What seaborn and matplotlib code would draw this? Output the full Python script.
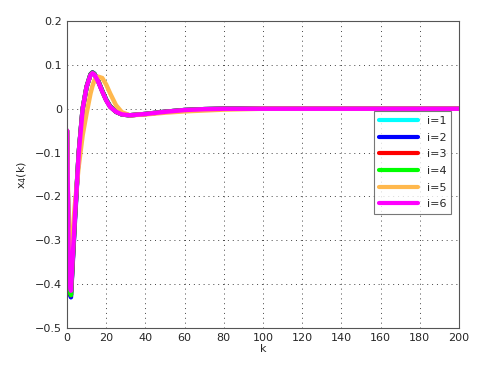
import matplotlib
matplotlib.use("Agg")
import matplotlib.pyplot as plt
import seaborn as sns
import pandas as pd

# sample instants and state x4(k) for each agent i
k = [0, 1, 2, 4, 6, 8, 10, 12, 13, 14, 16, 18, 20, 22, 25, 28, 32, 40, 50, 60, 70, 80, 100, 150, 200]

x4_i1 = [-0.05, -0.40, -0.425, -0.25, -0.10, 0.0, 0.05, 0.078, 0.082, 0.079, 0.062, 0.040, 0.020, 0.005, -0.007, -0.013, -0.015, -0.012, -0.007, -0.003, -0.001, 0.0, 0.0, 0.0, 0.0]
x4_i2 = [-0.05, -0.41, -0.430, -0.26, -0.10, 0.0, 0.05, 0.079, 0.083, 0.080, 0.063, 0.041, 0.021, 0.006, -0.007, -0.013, -0.015, -0.012, -0.007, -0.003, -0.001, 0.0, 0.0, 0.0, 0.0]
x4_i3 = [-0.05, -0.40, -0.425, -0.25, -0.10, 0.0, 0.05, 0.078, 0.082, 0.079, 0.062, 0.040, 0.020, 0.005, -0.007, -0.013, -0.015, -0.012, -0.007, -0.003, -0.001, 0.0, 0.0, 0.0, 0.0]
x4_i4 = [-0.05, -0.40, -0.425, -0.25, -0.10, 0.0, 0.05, 0.078, 0.082, 0.079, 0.062, 0.040, 0.020, 0.005, -0.007, -0.013, -0.015, -0.012, -0.007, -0.003, -0.001, 0.0, 0.0, 0.0, 0.0]
x4_i5 = [-0.05, -0.33, -0.335, -0.22, -0.13, -0.06, -0.01, 0.035, 0.052, 0.065, 0.073, 0.070, 0.055, 0.035, 0.008, -0.008, -0.015, -0.013, -0.009, -0.006, -0.004, -0.002, 0.0, 0.0, 0.0]
x4_i6 = [-0.05, -0.39, -0.415, -0.25, -0.10, 0.0, 0.05, 0.077, 0.081, 0.078, 0.061, 0.039, 0.019, 0.004, -0.007, -0.013, -0.015, -0.012, -0.007, -0.003, -0.001, 0.0, 0.0, 0.0, 0.0]

labels = ["i=1", "i=2", "i=3", "i=4", "i=5", "i=6"]
colors = ["#00ffff", "#0000ff", "#ff0000", "#00ff00", "#ffb84d", "#ff00ff"]

frames = []
for lab, vals in zip(labels, [x4_i1, x4_i2, x4_i3, x4_i4, x4_i5, x4_i6]):
    frames.append(pd.DataFrame({"k": k, "x4": vals, "agent": lab}))
df = pd.concat(frames, ignore_index=True)

sns.set_style("white")
plt.rcParams["font.family"] = ["DejaVu Sans"]

fig = plt.figure(figsize=(4.8, 3.66), dpi=100)
ax = fig.add_axes([0.1396, 0.1038, 0.8164, 0.8388])

sns.lineplot(data=df, x="k", y="x4", hue="agent", palette=colors,
             linewidth=3.2, ax=ax, sort=False, estimator=None)

ax.set_xlim(0, 200)
ax.set_ylim(-0.5, 0.2)
ax.set_xticks(range(0, 201, 20))
ax.set_yticks([-0.5, -0.4, -0.3, -0.2, -0.1, 0, 0.1, 0.2])
ax.set_yticklabels(["\u22120.5", "\u22120.4", "\u22120.3", "\u22120.2", "\u22120.1", "0", "0.1", "0.2"])
ax.grid(True, linestyle=(0, (1, 4)), color="#444444", linewidth=0.7)
ax.tick_params(direction="in", labelsize=8, length=3, color="#555555")
for sp in ax.spines.values():
    sp.set_color("#555555")
    sp.set_linewidth(0.8)
ax.set_xlabel("k", fontsize=8, labelpad=1)
ax.set_ylabel("x$_4$(k)", fontsize=8)

leg = ax.legend(loc="upper right", bbox_to_anchor=(0.995, 0.725), fontsize=8,
                frameon=True, fancybox=False, edgecolor="#555555",
                handlelength=3.5, labelspacing=0.6, borderpad=0.45)
leg.get_frame().set_linewidth(0.8)
for line in leg.get_lines():
    line.set_linewidth(3)

fig.savefig("out.png", dpi=100)
